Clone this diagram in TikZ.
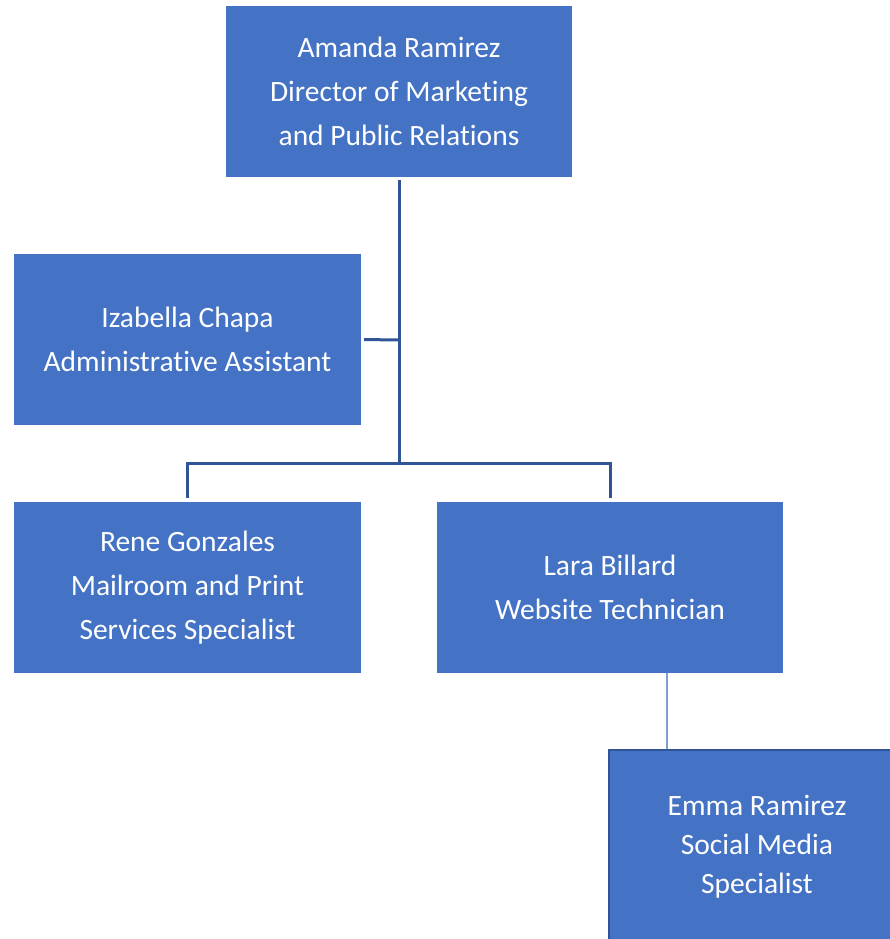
\documentclass[tikz,border=0pt]{standalone}
\usepackage{fontspec}
\setmainfont[Ligatures=NoCommon]{Carlito}
\definecolor{boxblue}{HTML}{4472C4}
\definecolor{linedark}{HTML}{2F5597}
\definecolor{linelight}{HTML}{7F9FD4}
\begin{document}
\begin{tikzpicture}[x=1pt,y=-1pt,
  orgbox/.style={fill=boxblue, draw=none, text=white, align=center, inner sep=0pt,
    minimum width=346pt, minimum height=171pt, anchor=center,
    font=\fontsize{29.5}{44}\selectfont},
  conn/.style={draw=linedark, line width=3pt},
  thinconn/.style={draw=linelight, line width=2pt}]
\useasboundingbox (0,0) rectangle (890,939);
\clip (0,0) rectangle (890,939);
\node[orgbox] (amanda) at (399,91.5) {Amanda Ramirez\\Director of Marketing\\and Public Relations};
\node[orgbox, minimum width=347pt] (izabella) at (187.5,339.5) {Izabella Chapa\\Administrative Assistant};
\node[orgbox, minimum width=347pt] (rene) at (187.5,587.5) {Rene Gonzales\\Mailroom and Print\\Services Specialist};
\node[orgbox] (lara) at (610,587.5) {Lara Billard\\Website Technician};
\node[orgbox, minimum width=296pt, minimum height=194pt, draw=linedark, line width=2pt,
  font=\fontsize{29.5}{39}\selectfont] (emma) at (757,847) {Emma Ramirez\\Social Media\\Specialist};
\coordinate (hub) at (399,463);
\coordinate (izj) at (399,340);
\draw[conn, shorten <=3pt] (amanda.south) -- (hub);
\draw[conn, shorten <=3pt] (izabella.east) -- (izj);
\draw[conn, shorten <=4pt] (rene.north) |- (hub);
\draw[conn, shorten <=4pt] (lara.north) |- (hub);
\coordinate (e1) at (667,673);
\draw[thinconn] (e1) -- (e1 |- emma.north);
\end{tikzpicture}
\end{document}
